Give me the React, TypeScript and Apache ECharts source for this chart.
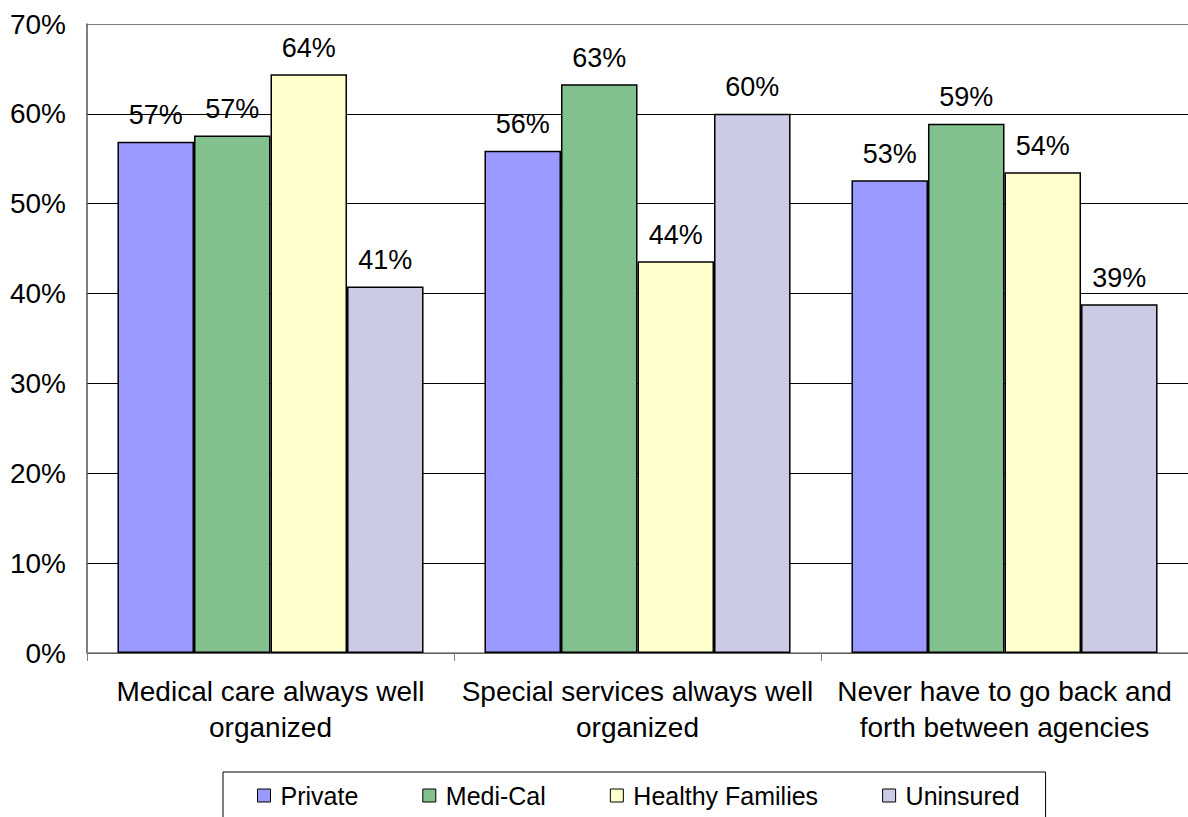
import React, { useEffect, useRef } from "react";
import * as echarts from "echarts";

const categories = [
  "Medical care always well\norganized",
  "Special services always well\norganized",
  "Never have to go back and\nforth between agencies",
];
const seriesNames = ["Private", "Medi-Cal", "Healthy Families", "Uninsured"];
const privateVals = [57, 56, 53];
const mediCalVals = [57, 63, 59];
const healthyFamiliesVals = [64, 44, 54];
const uninsuredVals = [41, 60, 39];
// bar heights (as drawn) differ slightly from rounded labels
const privateBars = [56.9, 55.9, 52.6];
const mediCalBars = [57.6, 63.3, 58.9];
const healthyFamiliesBars = [64.4, 43.6, 53.5];
const uninsuredBars = [40.8, 60.0, 38.8];
const colors = ["#9999FF", "#82C08E", "#FFFFCC", "#CBCBE5"];
const yTicks = [0, 10, 20, 30, 40, 50, 60, 70];

export default function App() {
  const ref = useRef<HTMLDivElement>(null);
  useEffect(() => {
    if (!ref.current) return;
    const chart = echarts.init(ref.current, null, { renderer: "svg" });
    const font = "Liberation Sans, Arial, sans-serif";
    const bars = [privateBars, mediCalBars, healthyFamiliesBars, uninsuredBars];
    const labels = [privateVals, mediCalVals, healthyFamiliesVals, uninsuredVals];
    chart.setOption({
      animation: false,
      backgroundColor: "#fff",
      grid: { left: 87, right: 0, top: 24, bottom: 164, containLabel: false },
      legend: {
        data: seriesNames,
        left: 223,
        top: 772,
        orient: "horizontal",
        itemWidth: 13,
        itemHeight: 13,
        itemGap: 64,
        padding: [11, 26, 40, 34],
        borderColor: "#000",
        borderWidth: 1,
        icon: "rect",
        itemStyle: { borderColor: "#000", borderWidth: 1 },
        textStyle: { fontFamily: font, fontSize: 25, color: "#000", padding: [0, 0, 0, 5] },
      },
      xAxis: {
        type: "category",
        data: categories,
        axisLine: { show: true, lineStyle: { color: "#808080", width: 1.5 } },
        axisTick: { show: true, alignWithLabel: false, length: 8, lineStyle: { color: "#808080" } },
        axisLabel: {
          fontFamily: font,
          fontSize: 28,
          color: "#000",
          lineHeight: 36,
          margin: 20,
          interval: 0,
        },
      },
      yAxis: {
        type: "value",
        min: 0,
        max: 70,
        interval: 10,
        axisLine: { show: true, lineStyle: { color: "#555", width: 1.5 } },
        axisTick: { show: false },
        splitLine: {
          show: true,
          lineStyle: {
            color: yTicks.map((t) => (t === 70 ? "#808080" : "#000")),
            width: 1,
          },
        },
        axisLabel: {
          fontFamily: font,
          fontSize: 28,
          color: "#000",
          margin: 21,
          formatter: (v: number) => v + "%",
        },
      },
      series: seriesNames.map((name, i) => ({
        name,
        type: "bar",
        barGap: "0%",
        barCategoryGap: "16.6%",
        data: bars[i],
        itemStyle: { color: colors[i], borderColor: "#000", borderWidth: 1.5 },
        label: {
          show: true,
          position: "top",
          distance: 13,
          fontFamily: font,
          fontSize: 27,
          color: "#000",
          formatter: (p: any) => labels[i][p.dataIndex] + "%",
        },
      })),
    });
    return () => chart.dispose();
  }, []);
  return (
    <div
      ref={ref}
      style={{ position: "absolute", left: 0, top: 0, width: 1188, height: 817 }}
    />
  );
}
